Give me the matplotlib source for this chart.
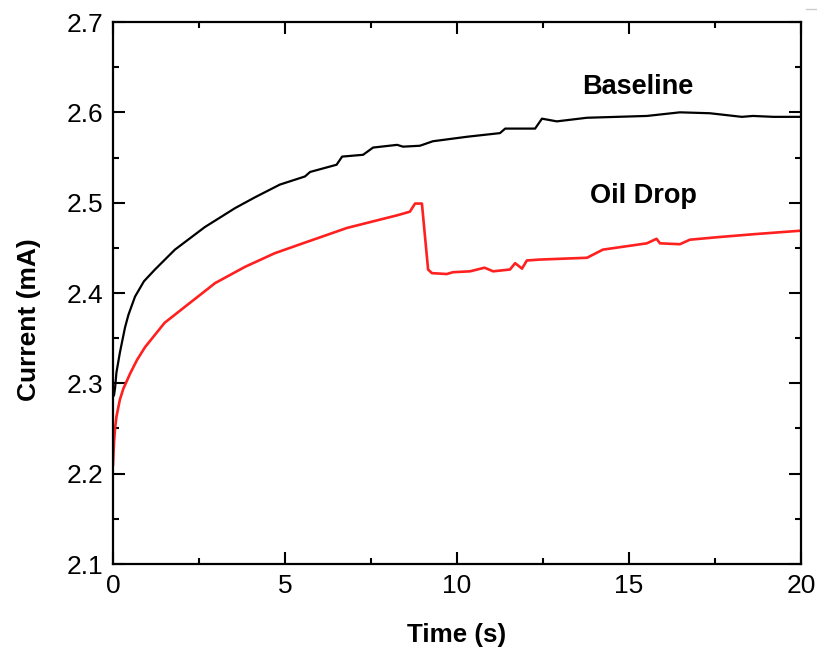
import matplotlib
matplotlib.use("Agg")
import matplotlib.pyplot as plt
from matplotlib.ticker import MultipleLocator, FormatStrFormatter
from matplotlib.lines import Line2D

plt.rcParams['font.family'] = ['Liberation Sans', 'DejaVu Sans']

# Baseline (black)
base_t = [0.0, 0.03, 0.06, 0.1, 0.2, 0.35, 0.45, 0.64, 0.9, 1.22, 1.8, 2.67, 3.55, 4.13, 4.85, 5.58, 5.73,
          6.5, 6.66, 7.27, 7.56, 8.26, 8.43, 8.92, 9.3, 10.3, 11.25, 11.4, 12.0, 12.27,
          12.47, 12.9, 13.78, 14.65, 15.52, 16.48, 17.35, 18.28, 18.6, 19.2, 20.0]
base_v = [2.285, 2.287, 2.295, 2.312, 2.334, 2.362, 2.376, 2.396, 2.413, 2.426, 2.448, 2.473, 2.494, 2.506, 2.520, 2.529, 2.534,
          2.542, 2.551, 2.553, 2.561, 2.564, 2.562, 2.563, 2.568, 2.573, 2.577, 2.582, 2.582, 2.582,
          2.593, 2.590, 2.594, 2.595, 2.596, 2.600, 2.599, 2.595, 2.596, 2.595, 2.595]

# Oil drop (red)
oil_t = [0.0, 0.03, 0.06, 0.1, 0.2, 0.3, 0.5, 0.7, 0.93, 1.5, 2.1, 2.97, 3.84, 4.7, 5.52, 6.8, 8.26, 8.63, 8.78,
         8.98, 9.16, 9.27, 9.7, 9.88, 10.38, 10.8, 11.05, 11.54, 11.69, 11.89, 12.03, 12.4,
         13.78, 14.24, 15.52, 15.8, 15.9, 16.48, 16.77, 17.64, 18.6, 20.0]
oil_v = [2.21, 2.235, 2.25, 2.263, 2.282, 2.294, 2.311, 2.326, 2.34, 2.367, 2.385, 2.411, 2.429, 2.444, 2.455, 2.472, 2.486, 2.490, 2.499,
         2.499, 2.426, 2.422, 2.421, 2.423, 2.424, 2.428, 2.424, 2.426, 2.433, 2.427, 2.436, 2.437,
         2.439, 2.448, 2.455, 2.460, 2.455, 2.454, 2.459, 2.462, 2.465, 2.469]

fig = plt.figure(figsize=(8.17, 6.52), dpi=100)
ax = fig.add_axes([113/817, 1 - 564/652, (801-113)/817, (564-22)/652])

ax.plot(base_t, base_v, color='black', lw=1.6)
ax.plot(oil_t, oil_v, color='#ff2020', lw=1.9)

ax.set_xlim(0, 20)
ax.set_ylim(2.1, 2.7)
ax.xaxis.set_major_locator(MultipleLocator(5))
ax.xaxis.set_minor_locator(MultipleLocator(2.5))
ax.yaxis.set_major_locator(MultipleLocator(0.1))
ax.yaxis.set_minor_locator(MultipleLocator(0.05))
ax.yaxis.set_major_formatter(FormatStrFormatter('%.1f'))
ax.xaxis.set_major_formatter(FormatStrFormatter('%d'))

ax.tick_params(which='both', direction='in', top=True, right=True, width=1.5,
               labelsize=19, colors='black')
ax.tick_params(which='major', length=8.5, pad=7)
ax.tick_params(which='minor', length=4.5)
for s in ax.spines.values():
    s.set_linewidth(1.6)

fig.text(457/817, 1 - 635/652, 'Time (s)', fontsize=18.7, fontweight='bold',
         ha='center', va='center')
fig.text(29/817, 1 - 320/652, 'Current (mA)', fontsize=19, fontweight='bold',
         ha='center', va='center', rotation=90)

ax.text(15.25, 2.628, 'Baseline', fontsize=19.5, fontweight='bold', ha='center', va='center')
ax.text(15.42, 2.507, 'Oil Drop', fontsize=19.5, fontweight='bold', ha='center', va='center')

fig.lines.append(Line2D([806/817, 817/817], [1 - 9/652, 1 - 9/652], transform=fig.transFigure,
                        color='#cccccc', lw=1))

fig.savefig('out.png', dpi=100)
